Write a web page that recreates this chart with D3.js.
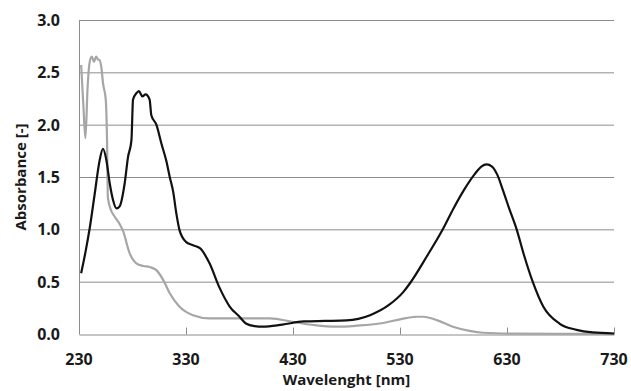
<!DOCTYPE html>
<html>
<head>
<meta charset="utf-8">
<script src="https://cdn.jsdelivr.net/npm/d3@7"></script>
<style>
  body { margin: 0; background: #fff; }
  svg { display: block; }
  .tick-label, .axis-title { font-family: "Open Sans", Lato, sans-serif; font-weight: bold; fill: #1a1a1a; }
</style>
</head>
<body>
<script>
// wavelength [nm] / absorbance pairs
var blackNm = [232, 236, 240, 244.7, 249.3, 252.4, 255.6, 258.7, 261.8, 265, 268, 272.7, 275.8, 279, 280.5, 283.6, 286, 289.2, 292.3, 296, 297.6, 302.3, 307, 311.7, 314.8, 318, 321, 324, 330, 336, 343, 352, 361, 371, 380, 386, 394, 402, 420, 440, 460, 480, 502, 520, 533, 539, 555, 570, 580, 590, 600, 606, 611, 616, 621, 626, 632, 639, 646, 654, 664, 679, 695, 710, 730];
var blackAbs = [0.58, 0.78, 1.01, 1.34, 1.66, 1.77, 1.66, 1.44, 1.28, 1.2, 1.22, 1.44, 1.69, 1.85, 2.24, 2.3, 2.32, 2.27, 2.29, 2.24, 2.09, 2.0, 1.82, 1.65, 1.5, 1.36, 1.15, 0.99, 0.88, 0.85, 0.82, 0.675, 0.45, 0.26, 0.165, 0.1, 0.075, 0.07, 0.09, 0.12, 0.125, 0.13, 0.18, 0.28, 0.40, 0.48, 0.74, 1.0, 1.2, 1.38, 1.53, 1.6, 1.62, 1.6, 1.52, 1.38, 1.2, 1.0, 0.75, 0.5, 0.26, 0.1, 0.04, 0.015, 0.005];

var grayNm = [232, 234, 236, 238, 240, 242, 244, 246, 248, 249, 251, 252.4, 255, 256.2, 257, 260, 263.4, 268, 271, 277.4, 283.6, 290, 296, 302.3, 308.5, 314.8, 324, 336.5, 352, 374, 408, 433, 450, 470.6, 490, 511, 530, 545, 552, 565, 579.5, 595, 607.6, 635, 680, 730];
var grayAbs = [2.57, 2.2, 1.87, 2.35, 2.6, 2.65, 2.6, 2.65, 2.62, 2.62, 2.54, 2.4, 2.24, 1.85, 1.3, 1.18, 1.12, 1.05, 0.99, 0.77, 0.675, 0.65, 0.64, 0.61, 0.52, 0.39, 0.26, 0.18, 0.15, 0.15, 0.15, 0.11, 0.085, 0.07, 0.08, 0.1, 0.14, 0.165, 0.165, 0.13, 0.07, 0.03, 0.012, 0.003, 0.001, 0.001];

var xTicks = [230, 330, 430, 530, 630, 730];
var yTicks = [0, 0.5, 1.0, 1.5, 2.0, 2.5, 3.0];

var width = 631, height = 391;
var margin = {left: 79, right: 17, top: 20, bottom: 57};

var svg = d3.select("body").append("svg")
    .attr("width", width)
    .attr("height", height);

var x = d3.scaleLinear().domain([230, 730]).range([margin.left, width - margin.right]);
var y = d3.scaleLinear().domain([0, 3]).range([height - margin.bottom, margin.top]);

// horizontal gridlines
svg.append("g").selectAll("line")
    .data(yTicks.slice(1))
    .enter().append("line")
    .attr("x1", x(230)).attr("x2", x(730))
    .attr("y1", function(d){ return y(d) + 0.5; })
    .attr("y2", function(d){ return y(d) + 0.5; })
    .attr("stroke", "#8c8c8c")
    .attr("stroke-width", 1);

// y axis line
svg.append("line")
    .attr("x1", x(230) + 0.5).attr("x2", x(230) + 0.5)
    .attr("y1", y(3)).attr("y2", y(0))
    .attr("stroke", "#8c8c8c");

// x axis, ticks pointing up into the plot
var xAxis = d3.axisBottom(x).tickValues(xTicks).tickSizeInner(-7).tickSizeOuter(0).tickFormat("");
var gx = svg.append("g")
    .attr("transform", "translate(0," + (y(0) + 0.5) + ")")
    .call(xAxis);
gx.select(".domain").attr("stroke", "#8c8c8c");
gx.selectAll(".tick line").attr("stroke", "#8c8c8c");

svg.append("g").selectAll("text")
    .data(xTicks)
    .enter().append("text")
    .attr("class", "tick-label")
    .attr("x", function(d){ return x(d); })
    .attr("y", y(0) + 31)
    .attr("text-anchor", "middle")
    .attr("font-size", "16px")
    .text(function(d){ return d; });

svg.append("g").selectAll("text")
    .data(yTicks)
    .enter().append("text")
    .attr("class", "tick-label")
    .attr("x", 60)
    .attr("y", function(d){ return y(d) + 6; })
    .attr("text-anchor", "end")
    .attr("font-size", "16px")
    .text(function(d){ return d3.format(".1f")(d); });

svg.append("text")
    .attr("class", "axis-title")
    .attr("x", (x(230) + x(730)) / 2)
    .attr("y", 385)
    .attr("text-anchor", "middle")
    .attr("font-size", "15px")
    .text("Wavelenght [nm]");

svg.append("text")
    .attr("class", "axis-title")
    .attr("transform", "translate(26," + y(1.5) + ") rotate(-90)")
    .attr("text-anchor", "middle")
    .attr("font-size", "15px")
    .text("Absorbance [-]");

var line = d3.line()
    .x(function(d){ return x(d[0]); })
    .y(function(d){ return y(d[1]); })
    .curve(d3.curveMonotoneX);

svg.append("path")
    .datum(d3.zip(grayNm, grayAbs))
    .attr("d", line)
    .attr("fill", "none")
    .attr("stroke", "#a6a6a6")
    .attr("stroke-width", 2.2);

svg.append("path")
    .datum(d3.zip(blackNm, blackAbs))
    .attr("d", line)
    .attr("fill", "none")
    .attr("stroke", "#111")
    .attr("stroke-width", 2.2);
</script>
</body>
</html>
